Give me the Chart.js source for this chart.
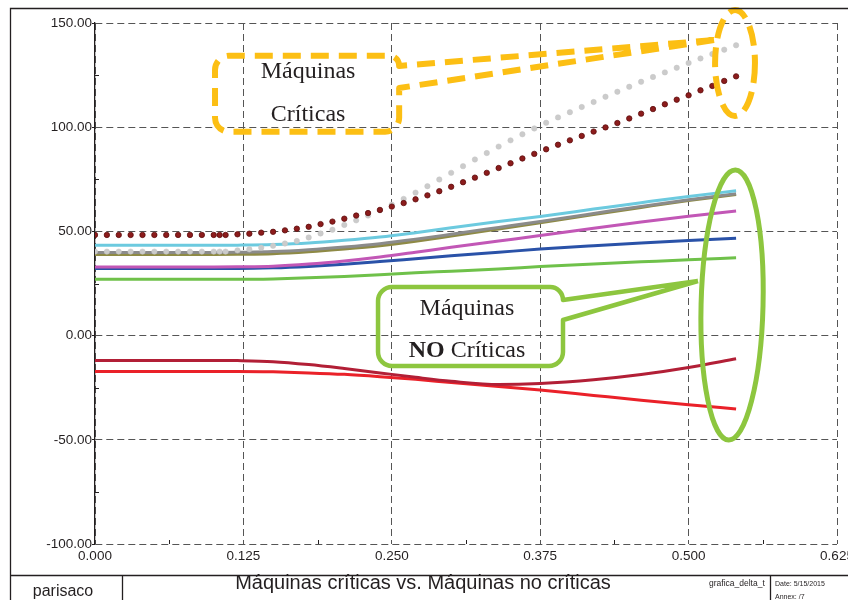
<!DOCTYPE html>
<html>
<head>
<meta charset="utf-8">
<script src="https://cdn.jsdelivr.net/npm/chart.js@4.4.1/dist/chart.umd.min.js"></script>
<style>
  html, body { margin: 0; padding: 0; background: #fff; }
  #wrap { width: 848px; height: 600px; position: relative; }
</style>
</head>
<body>
<div id="wrap"><canvas id="c" width="848" height="600"></canvas></div>
<script>
// ---- sampled curves (one marker per sample) ----
const sampleX = [0, 0.01, 0.02, 0.03, 0.04, 0.05, 0.06, 0.07, 0.08, 0.09, 0.10, 0.105, 0.11,
  0.12, 0.13, 0.14, 0.15, 0.16, 0.17, 0.18, 0.19, 0.20, 0.21, 0.22, 0.23, 0.24, 0.25, 0.26,
  0.27, 0.28, 0.29, 0.30, 0.31, 0.32, 0.33, 0.34, 0.35, 0.36, 0.37, 0.38, 0.39, 0.40, 0.41,
  0.42, 0.43, 0.44, 0.45, 0.46, 0.47, 0.48, 0.49, 0.50, 0.51, 0.52, 0.53, 0.54];

const critGrey = [40.3, 40.3, 40.3, 40.3, 40.3, 40.3, 40.3, 40.3, 40.3, 40.3, 40.3, 40.3, 40.3,
  40.9, 41.4, 42.2, 43.1, 44.2, 45.4, 47.1, 49.0, 50.8, 53.1, 55.3, 57.6, 60.1, 62.8, 65.6,
  68.6, 71.7, 74.9, 78.1, 81.3, 84.5, 87.6, 90.7, 93.7, 96.6, 99.4, 102.1, 104.7, 107.2, 109.7,
  112.1, 114.6, 117.0, 119.4, 121.8, 124.1, 126.3, 128.5, 130.8, 133.0, 135.1, 137.2, 139.3];

const critRed = [48.3, 48.3, 48.3, 48.3, 48.3, 48.3, 48.3, 48.3, 48.3, 48.3, 48.3, 48.3, 48.3,
  48.6, 48.9, 49.4, 49.8, 50.5, 51.3, 52.2, 53.5, 54.7, 56.1, 57.6, 58.8, 60.3, 61.9, 63.6,
  65.4, 67.3, 69.3, 71.4, 73.6, 75.8, 78.1, 80.4, 82.7, 85.0, 87.2, 89.4, 91.6, 93.7, 95.8,
  97.9, 99.9, 102.0, 104.2, 106.5, 108.7, 111.0, 113.2, 115.3, 117.7, 119.8, 122.2, 124.4];

// ---- continuous curves ----
const lineX = [0, 0.05, 0.10, 0.12, 0.15, 0.18, 0.21, 0.24, 0.27, 0.30, 0.34, 0.375, 0.42, 0.46, 0.50, 0.54];
const cyanVals    = [43.3, 43.3, 43.3, 43.4, 43.7, 44.4, 45.7, 47.3, 49.4, 51.7, 54.7, 57.2, 60.7, 63.8, 66.8, 69.5];
const greyVals    = [39.9, 39.9, 39.9, 40.0, 40.3, 41.2, 42.5, 44.1, 46.2, 48.6, 51.9, 54.8, 58.6, 62.0, 65.2, 68.1];
const oliveVals   = [38.9, 38.9, 38.9, 39.0, 39.3, 40.2, 41.5, 43.1, 45.3, 47.8, 51.2, 54.2, 58.1, 61.5, 64.8, 67.7];
const magentaVals = [32.9, 32.9, 32.9, 33.0, 33.3, 34.3, 35.8, 37.7, 40.0, 42.4, 45.4, 48.0, 51.5, 54.5, 57.3, 59.8];
const blueVals    = [32.2, 32.2, 32.2, 32.2, 32.5, 33.2, 34.2, 35.5, 36.9, 38.3, 40.0, 41.5, 43.1, 44.4, 45.6, 46.7];
const greenVals   = [27.0, 27.0, 27.0, 27.0, 27.2, 27.7, 28.4, 29.2, 30.1, 30.9, 32.0, 33.1, 34.4, 35.4, 36.4, 37.3];
const maroonVals  = [-11.9, -11.9, -11.9, -12.0, -12.5, -13.9, -15.8, -17.9, -20.0, -21.9, -23.5, -23.0, -21.2, -18.7, -15.3, -11.1];
const redVals     = [-17.2, -17.2, -17.2, -17.2, -17.4, -17.9, -18.6, -19.7, -21.0, -22.5, -24.4, -26.1, -28.7, -31.0, -33.2, -35.2];

// ---- axes ----
const xTickStep = 0.125;
const yTickStep = 50;
const minorX = [0.0625, 0.1875, 0.3125, 0.4375, 0.5625];
const minorY = [125, 75, 25, -25, -75];

// ---- title block ----
const footerAuthor = 'parisaco';
const chartTitle = 'Máquinas críticas vs. Máquinas no críticas';
const fileTag = 'grafica_delta_t';
const dateText = 'Date: 5/15/2015';
const annexText = 'Annex: /7';

// ---- callouts (data units) ----
const critLabel = ['Máquinas', 'Críticas'];
const nonCritLabel = ['Máquinas', 'NO', 'Críticas'];
const critBox = { x0: 0.1011, x1: 0.2562, yTop: 134.3, yBot: 97.8, tailTop: 129.4, tailBot: 118.8, tipX: 0.5214, tipY: 141.8, textX: 0.1795, line1: 123.6, line2: 103.1 };
const critRing = { cx: 0.5391, cy: 130.8, rx: 0.0168, ry: 25.4 };
const nonCritBox = { x0: 0.2384, x1: 0.3942, yTop: 23.3, yBot: -14.6, tailTop: 17.1, tailBot: 7.5, tipX: 0.5079, tipY: 26.2, textX: 0.3133, line1: 9.9, line2: -10.4 };
const nonCritRing = { cx: 0.5366, cy: 14.7, rx: 0.0261, ry: 64.8, rot: 0.025 };

const INK = '#231f20';
const YELLOW = '#fcbf14';
const LIME = '#8dc63f';

const pts = (xs, ys) => xs.map((x, i) => ({ x: x, y: ys[i] }));

function lineSet(label, ys, color) {
  return {
    label, data: pts(lineX, ys), borderColor: color, backgroundColor: color,
    borderWidth: 3, pointRadius: 0, cubicInterpolationMode: 'monotone', fill: false
  };
}

const datasets = [
  { label: 'Crítica B', data: pts(sampleX, critRed), showLine: false, pointRadius: 2.7,
    pointBackgroundColor: '#8c1c1c', pointBorderColor: '#5e0c0c', pointBorderWidth: 0.8 },
  { label: 'Crítica A', data: pts(sampleX, critGrey), showLine: false, pointRadius: 2.7,
    pointBackgroundColor: '#cbcbcb', pointBorderColor: '#c4c4c4', pointBorderWidth: 0.5 },
  lineSet('Cian', cyanVals, '#6ccadf'),
  lineSet('Gris', greyVals, '#8b8b8b'),
  lineSet('Oliva', oliveVals, '#8e8a45'),
  lineSet('Magenta', magentaVals, '#c257b6'),
  lineSet('Azul', blueVals, '#2a52a8'),
  lineSet('Verde', greenVals, '#6fc14a'),
  lineSet('Granate', maroonVals, '#b21f36'),
  lineSet('Rojo', redVals, '#ea2129')
];

function fixY(scale) { scale.width = 95; scale.paddingTop = 0; scale.paddingBottom = 0; }
function fixX(scale) { scale.height = 31; scale.paddingLeft = 0; scale.paddingRight = 0; }

function roundedCallout(ctx, L, R, T, B, r, tailTop, tailBot, tipX, tipY) {
  ctx.beginPath();
  ctx.moveTo(tipX, tipY);
  ctx.lineTo(R, tailTop);
  ctx.arcTo(R, T, L, T, Math.min(r, tailTop - T));
  ctx.arcTo(L, T, L, B, r);
  ctx.arcTo(L, B, R, B, r);
  ctx.arcTo(R, B, R, T, r);
  ctx.lineTo(R, tailBot);
  ctx.lineTo(tipX, tipY);
  ctx.stroke();
}

const decor = {
  id: 'decor',
  beforeDraw(chart) {
    const ctx = chart.ctx;
    ctx.save();
    ctx.fillStyle = '#fff';
    ctx.fillRect(0, 0, chart.width, chart.height);
    ctx.restore();
  },
  afterDatasetsDraw(chart) {
    const ctx = chart.ctx;
    const xs = chart.scales.x, ys = chart.scales.y;
    const px = v => xs.getPixelForValue(v);
    const py = v => ys.getPixelForValue(v);
    const area = chart.chartArea;

    ctx.save();
    // minor ticks
    ctx.strokeStyle = INK; ctx.lineWidth = 1; ctx.setLineDash([]);
    minorY.forEach(v => {
      const y = Math.round(py(v)) + 0.5;
      ctx.beginPath(); ctx.moveTo(area.left, y); ctx.lineTo(area.left + 4, y); ctx.stroke();
    });
    minorX.forEach(v => {
      const x = Math.round(px(v)) + 0.5;
      ctx.beginPath(); ctx.moveTo(x, area.bottom); ctx.lineTo(x, area.bottom - 4); ctx.stroke();
    });

    // critical callout (dashed yellow)
    ctx.strokeStyle = YELLOW; ctx.lineWidth = 6; ctx.setLineDash([18, 10]);
    ctx.lineJoin = 'round';
    roundedCallout(ctx, px(critBox.x0), px(critBox.x1), py(critBox.yTop), py(critBox.yBot), 14,
      py(critBox.tailTop), py(critBox.tailBot), px(critBox.tipX), py(critBox.tipY));
    ctx.setLineDash([20, 9]);
    ctx.beginPath();
    ctx.ellipse(px(critRing.cx), py(critRing.cy),
      Math.abs(px(critRing.cx + critRing.rx) - px(critRing.cx)),
      Math.abs(py(critRing.cy + critRing.ry) - py(critRing.cy)), 0, 0, Math.PI * 2);
    ctx.stroke();

    // non-critical callout (solid green)
    ctx.setLineDash([]);
    ctx.strokeStyle = LIME; ctx.lineWidth = 4.5;
    roundedCallout(ctx, px(nonCritBox.x0), px(nonCritBox.x1), py(nonCritBox.yTop), py(nonCritBox.yBot), 14,
      py(nonCritBox.tailTop), py(nonCritBox.tailBot), px(nonCritBox.tipX), py(nonCritBox.tipY));
    ctx.lineWidth = 5;
    ctx.beginPath();
    ctx.ellipse(px(nonCritRing.cx), py(nonCritRing.cy),
      Math.abs(px(nonCritRing.cx + nonCritRing.rx) - px(nonCritRing.cx)),
      Math.abs(py(nonCritRing.cy + nonCritRing.ry) - py(nonCritRing.cy)), nonCritRing.rot, 0, Math.PI * 2);
    ctx.stroke();

    // callout texts
    ctx.fillStyle = INK;
    ctx.textAlign = 'center'; ctx.textBaseline = 'alphabetic';
    const serif = '24px "Liberation Serif", "Times New Roman", serif';
    const serifBold = 'bold 24px "Liberation Serif", "Times New Roman", serif';
    ctx.font = serif;
    ctx.fillText(critLabel[0], px(critBox.textX), py(critBox.line1));
    ctx.fillText(critLabel[1], px(critBox.textX), py(critBox.line2));
    ctx.fillText(nonCritLabel[0], px(nonCritBox.textX), py(nonCritBox.line1));
    // "NO" in bold followed by "Críticas"
    ctx.font = serifBold;
    const wNo = ctx.measureText(nonCritLabel[1] + ' ').width;
    ctx.font = serif;
    const wRest = ctx.measureText(nonCritLabel[2]).width;
    const startX = px(nonCritBox.textX) - (wNo + wRest) / 2;
    ctx.textAlign = 'left';
    ctx.font = serifBold;
    ctx.fillText(nonCritLabel[1], startX, py(nonCritBox.line2));
    ctx.font = serif;
    ctx.fillText(nonCritLabel[2], startX + wNo, py(nonCritBox.line2));
    ctx.restore();
  },
  afterDraw(chart) {
    const ctx = chart.ctx;
    const W = chart.width, H = chart.height;
    ctx.save();
    // drawing frame and title block
    ctx.strokeStyle = INK; ctx.lineWidth = 1.3; ctx.setLineDash([]);
    ctx.beginPath();
    ctx.moveTo(10.5, H); ctx.lineTo(10.5, 8.5); ctx.lineTo(W, 8.5);
    ctx.moveTo(10.5, 575.5); ctx.lineTo(W, 575.5);
    ctx.moveTo(122.5, 575.5); ctx.lineTo(122.5, H);
    ctx.moveTo(770.5, 575.5); ctx.lineTo(770.5, H);
    ctx.stroke();

    ctx.fillStyle = INK;
    ctx.textBaseline = 'alphabetic';
    ctx.textAlign = 'center';
    ctx.font = '16px "Liberation Sans", Arial, sans-serif';
    ctx.fillText(footerAuthor, 63, 596);
    ctx.font = '20px "Liberation Sans", Arial, sans-serif';
    ctx.fillText(chartTitle, 423, 589);
    ctx.textAlign = 'left';
    ctx.font = '8.5px "Liberation Sans", Arial, sans-serif';
    ctx.fillText(fileTag, 709, 586);
    ctx.font = '7px "Liberation Sans", Arial, sans-serif';
    ctx.fillText(dateText, 775, 586);
    ctx.fillText(annexText, 775, 599);
    ctx.restore();
  }
};

Chart.defaults.font.family = '"Liberation Sans", Arial, sans-serif';
Chart.defaults.color = INK;

new Chart(document.getElementById('c'), {
  type: 'line',
  data: { datasets },
  options: {
    responsive: false,
    animation: false,
    devicePixelRatio: 1,
    layout: { padding: { left: 0, right: 11, top: 23, bottom: 25 } },
    plugins: { legend: { display: false }, tooltip: { enabled: false } },
    scales: {
      x: {
        type: 'linear', min: 0, max: 0.625,
        afterFit: fixX,
        border: { display: false, dash: [7, 4] },
        grid: { color: '#555', lineWidth: 1, drawTicks: false },
        ticks: { stepSize: xTickStep, autoSkip: false, maxRotation: 0, padding: 4,
          font: { size: 13.5 }, color: INK, callback: v => Number(v).toFixed(3) }
      },
      y: {
        type: 'linear', min: -100, max: 150,
        afterFit: fixY,
        border: { display: true, color: INK, width: 1.3, dash: [7, 4] },
        grid: { color: '#555', lineWidth: 1, tickLength: 3, tickColor: INK, tickBorderDash: [] },
        ticks: { stepSize: yTickStep, padding: 0, font: { size: 13.5 }, color: INK,
          callback: v => Number(v).toFixed(2) }
      }
    }
  },
  plugins: [decor]
});
</script>
</body>
</html>
